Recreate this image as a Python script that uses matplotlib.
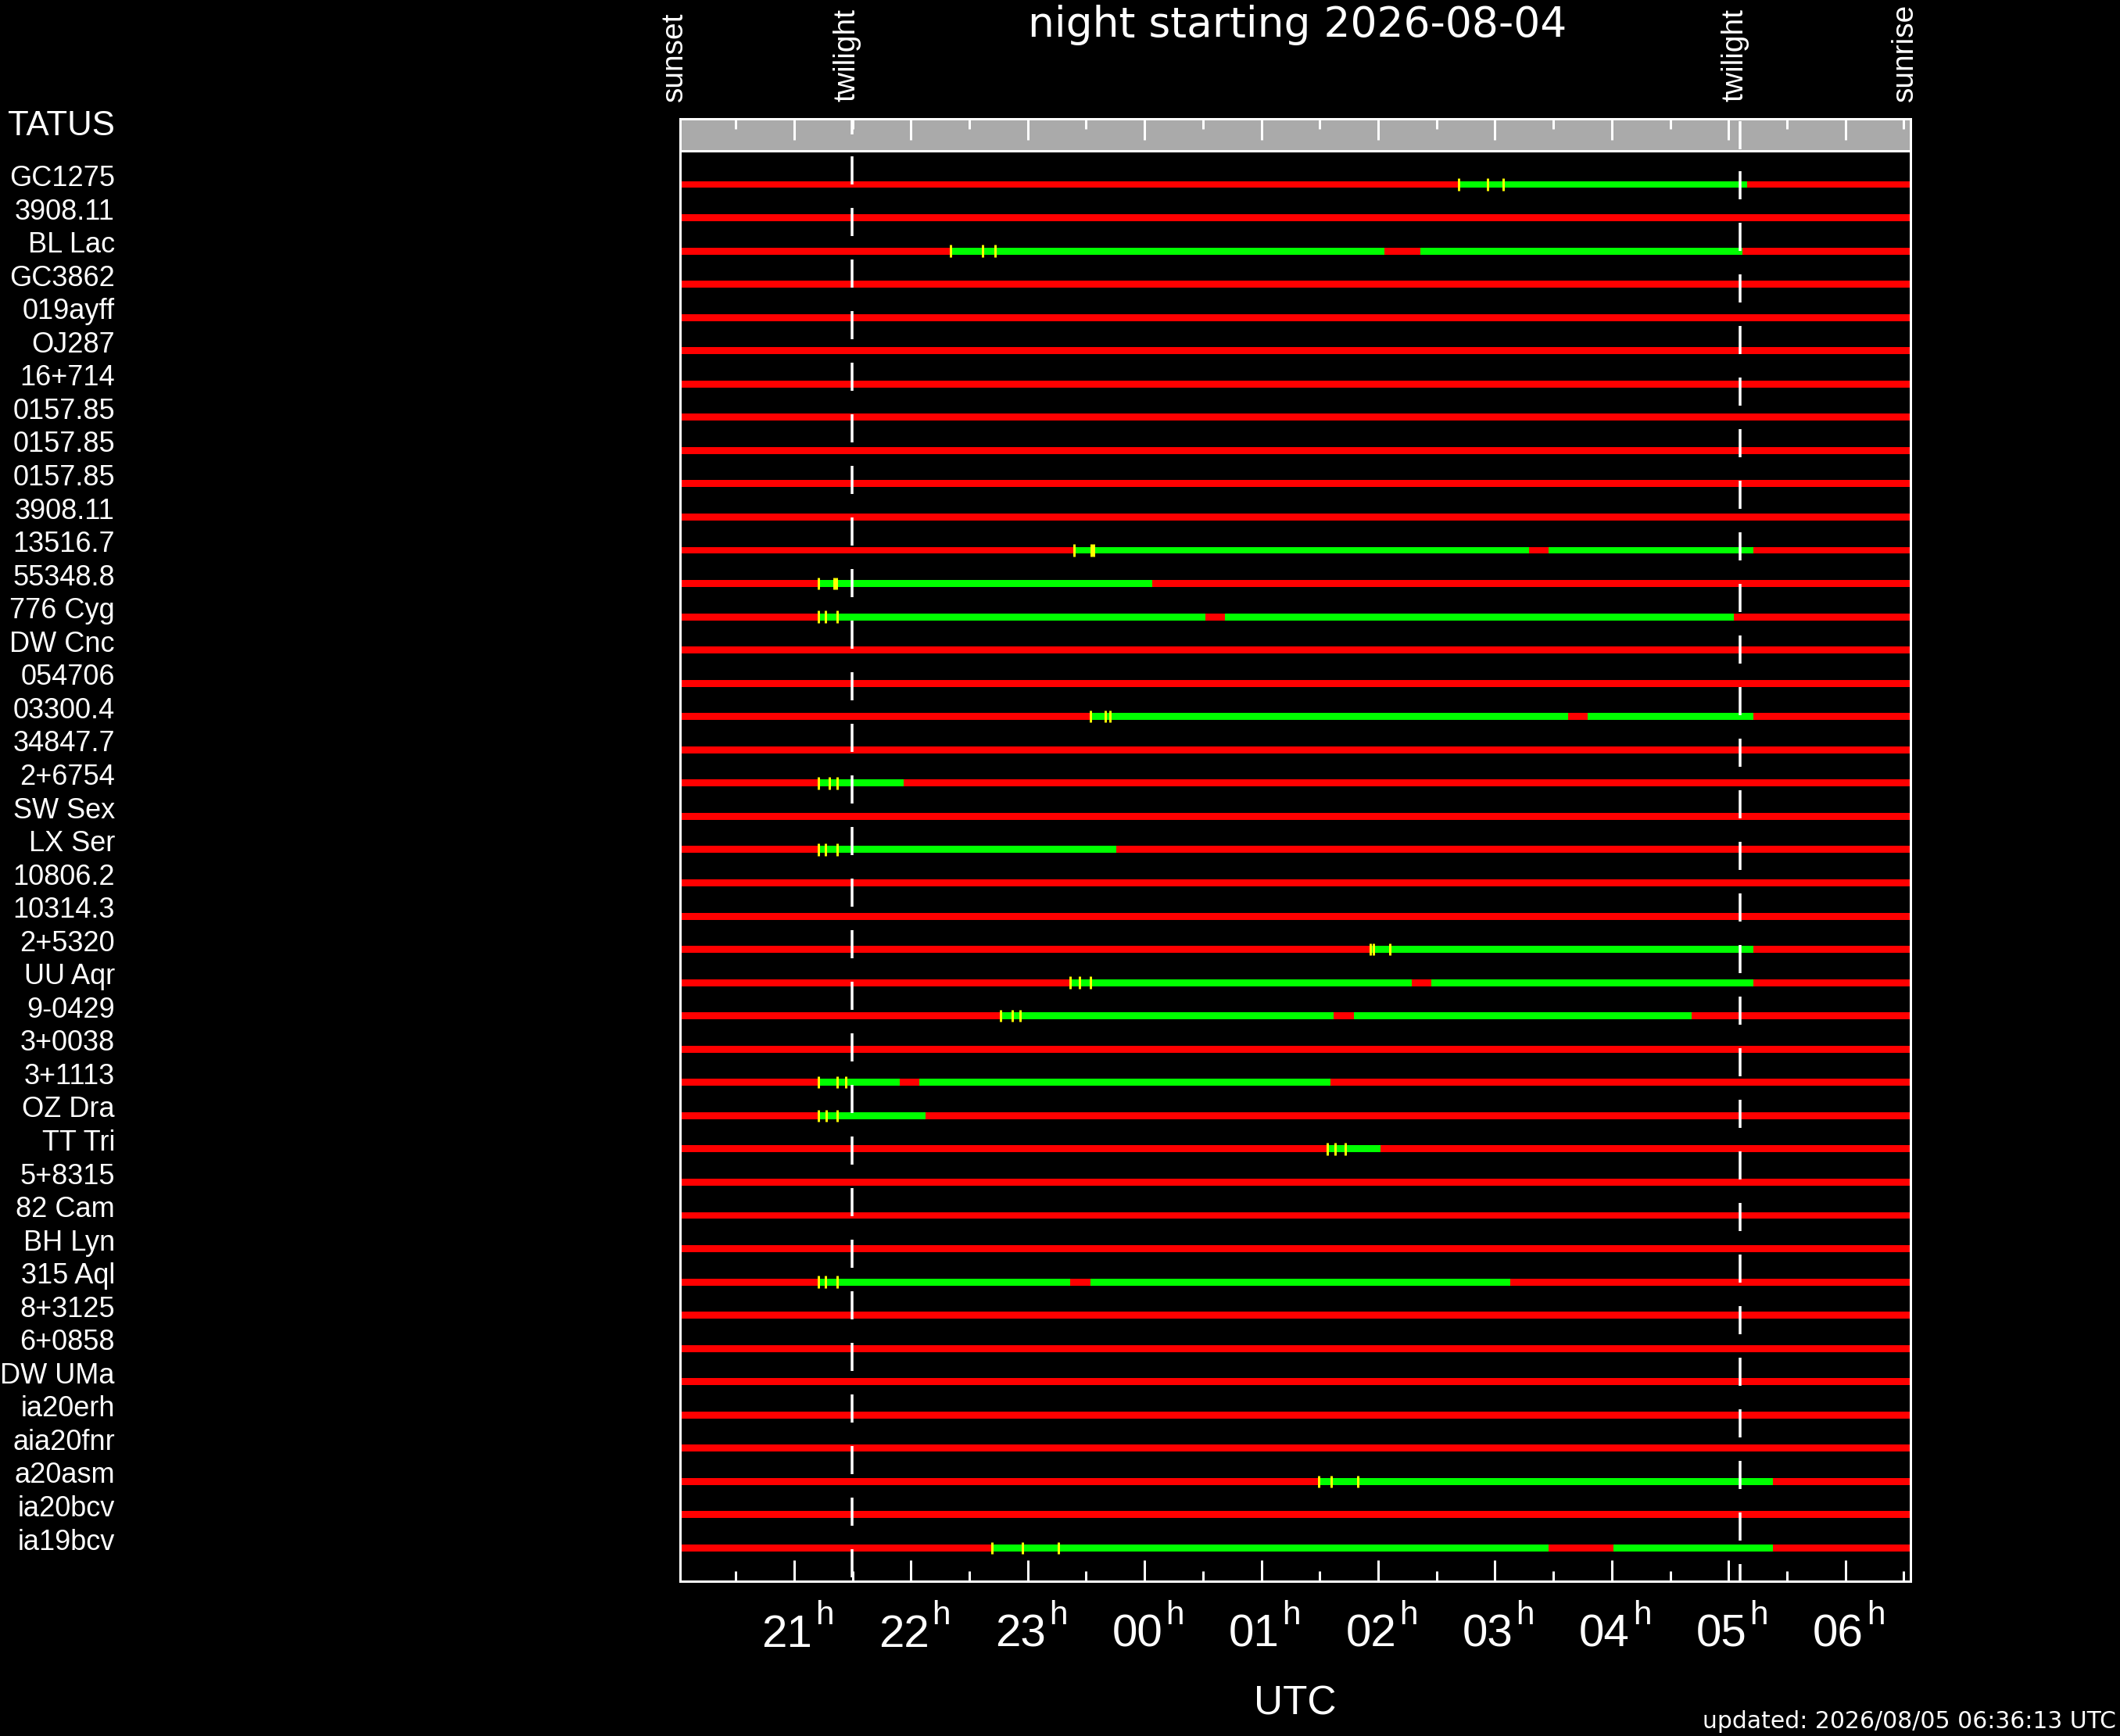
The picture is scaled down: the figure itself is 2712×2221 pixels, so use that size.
import matplotlib
matplotlib.use('Agg')
import matplotlib.pyplot as plt
from matplotlib import transforms

plt.rcParams['lines.scale_dashes'] = False
plt.rcParams['font.family'] = ['Liberation Sans', 'DejaVu Sans']

# targets, top to bottom (as far as they show at the left edge)
targets = ['GC1275', '3908.11', 'BL Lac', 'GC3862', '019ayff', 'OJ287',
           '16+714', '0157.85', '0157.85', '0157.85', '3908.11',
           '13516.7', '55348.8', '776 Cyg', 'DW Cnc', '054706', '03300.4',
           '34847.7', '2+6754', 'SW Sex', 'LX Ser', '10806.2', '10314.3',
           '2+5320', 'UU Aqr', '9-0429', '3+0038', '3+1113', 'OZ Dra',
           'TT Tri', '5+8315', '82 Cam', 'BH Lyn', '315 Aql', '8+3125',
           '6+0858', 'DW UMa', 'ia20erh', 'aia20fnr', 'a20asm', 'ia20bcv',
           'ia19bcv']

# night events, hours UTC (past midnight counted as 24+)
sunset = 20.023
twilight_eve = 21.495
twilight_morn = 29.099
sunrise = 30.558

# rows with an observable window (green), split where interrupted
obs_rows = [0, 2, 11, 12, 13, 16, 18, 20, 23, 24, 25, 27, 28, 29, 33, 39, 41]
obs_windows = [
    [(26.690, 29.157)],
    [(22.339, 26.055), (26.362, 29.116)],
    [(23.398, 27.292), (27.456, 29.211)],
    [(21.206, 24.068)],
    [(21.206, 24.518), (24.689, 29.047)],
    [(23.535, 27.627), (27.791, 29.211)],
    [(21.206, 21.937)],
    [(21.206, 23.760)],
    [(25.932, 29.211)],
    [(23.364, 26.287), (26.458, 29.211)],
    [(22.769, 25.619), (25.795, 28.685)],
    [(21.206, 21.902), (22.073, 25.591)],
    [(21.206, 22.127)],
    [(25.563, 26.020)],
    [(21.206, 23.364), (23.535, 27.128)],
    [(25.488, 29.382)],
    [(22.694, 27.456), (28.016, 29.382)],
]
# yellow markers at the start of each window
obs_marks = [
    [26.690, 26.936, 27.072],
    [22.339, 22.612, 22.721],
    [23.398, 23.542, 23.562],
    [21.206, 21.342, 21.363],
    [21.206, 21.267, 21.370],
    [23.535, 23.664, 23.706],
    [21.206, 21.301, 21.370],
    [21.206, 21.267, 21.370],
    [25.932, 25.959, 26.102],
    [23.364, 23.446, 23.535],
    [22.769, 22.865, 22.934],
    [21.206, 21.370, 21.445],
    [21.206, 21.274, 21.370],
    [25.563, 25.631, 25.720],
    [21.206, 21.267, 21.370],
    [25.488, 25.597, 25.829],
    [22.694, 22.954, 23.261],
]

hours = [21, 22, 23, 24, 25, 26, 27, 28, 29, 30]
half_hours = [20.5, 21.5, 22.5, 23.5, 24.5, 25.5, 26.5, 27.5, 28.5, 29.5, 30.5]

W, H = 2712, 2221


def pt(p):
    # pixels -> points at dpi 100
    return p * 0.72


fig = plt.figure(figsize=(W / 100, H / 100), dpi=100, facecolor='black')
ax = fig.add_axes([870 / W, 1 - 2023 / H, 1574 / W, 1830 / H], facecolor='black')
axb = fig.add_axes([870 / W, 1 - 193 / H, 1574 / W, 41 / H], facecolor='#aaaaaa')

n = len(targets)
ax.set_xlim(sunset, sunrise)
ax.set_ylim(42.0, -1.01)
axb.set_xlim(sunset, sunrise)
axb.set_ylim(0, 1)

bar_h = 0.21
for i in range(n):
    ax.broken_barh([(sunset, sunrise - sunset)], (i - bar_h / 2, bar_h),
                   facecolors='#ff0000', linewidth=0, zorder=2)
for row, wins, marks in zip(obs_rows, obs_windows, obs_marks):
    ax.broken_barh([(a, b - a) for a, b in wins], (row - bar_h / 2, bar_h),
                   facecolors='#00ff00', linewidth=0, zorder=3)
    ax.vlines(marks, row - 0.18, row + 0.18, colors='#ffff00', lw=pt(3), zorder=4)

# twilight dashed lines
for tw, off_main, off_band in [(twilight_eve, 59, 16), (twilight_morn, 40, 63)]:
    ax.plot([tw, tw], [-1.01, 42.0], color='white', lw=pt(3.5), zorder=5,
            linestyle=(pt(off_main), (pt(36), pt(30))))
    axb.plot([tw, tw], [1, 0], color='white', lw=pt(3.5), zorder=5,
             linestyle=(pt(off_band), (pt(36), pt(30))))

for a in (ax, axb):
    for s in a.spines.values():
        s.set_color('white')
        s.set_linewidth(pt(3))
        s.set_zorder(6)
    a.set_yticks([])
    a.set_xticks(hours)
    a.set_xticks(half_hours, minor=True)
    a.tick_params(axis='x', which='both', direction='in', color='white',
                  width=pt(3), labelbottom=False, labeltop=False)
    a.tick_params(axis='x', which='major', length=pt(27))
    a.tick_params(axis='x', which='minor', length=pt(13))
ax.tick_params(axis='x', which='both', bottom=True, top=False)
axb.tick_params(axis='x', which='both', bottom=False, top=True)

# hour labels with superscript h
xt = ax.get_xaxis_transform()
t_dig = xt + transforms.ScaledTranslation(0.23, 0, fig.dpi_scale_trans)
t_h = xt + transforms.ScaledTranslation(0.27, 0, fig.dpi_scale_trans)
for h in hours:
    ax.text(h, -0.0459, '%02d' % (h % 24), transform=t_dig, ha='right',
            va='baseline', color='white', fontsize=42)
    ax.text(h, -0.0300, 'h', transform=t_h, ha='left', va='baseline',
            color='white', fontsize=30.5)

ax.text(0.5, -0.0929, 'UTC', transform=ax.transAxes, ha='center', va='baseline',
        color='white', fontsize=37)

# target names, right-aligned against the left edge of the figure
t_lab = transforms.blended_transform_factory(fig.transFigure, ax.transData)
for i, name in enumerate(targets):
    ax.text(147 / W, i + 0.05, name, transform=t_lab, ha='right', va='baseline',
            color='white', fontsize=26)
fig.text(147 / W, 1 - 173 / H, 'TATUS', ha='right', va='baseline',
         color='white', fontsize=31.5)

# event labels above the band
t_ev = transforms.blended_transform_factory(axb.transData, fig.transFigure) + \
    transforms.ScaledTranslation(0.03, 0, fig.dpi_scale_trans)
for x, lab in [(sunset, 'sunset'), (twilight_eve, 'twilight'),
               (twilight_morn, 'twilight'), (sunrise, 'sunrise')]:
    axb.text(x, 1 - 130 / H, lab, transform=t_ev, rotation=90, rotation_mode='anchor',
             ha='left', va='baseline', color='white', fontsize=28)

fig.text(1660 / W, 1 - 47 / H, 'night starting 2026-08-04', ha='center',
         va='baseline', color='white', fontsize=38.5, family='DejaVu Sans')
fig.text(2707 / W, 1 - 2211 / H, 'updated: 2026/08/05 06:36:13 UTC', ha='right',
         va='baseline', color='white', fontsize=21.5, family='DejaVu Sans')

fig.savefig('out.png', dpi=100, facecolor='black')
